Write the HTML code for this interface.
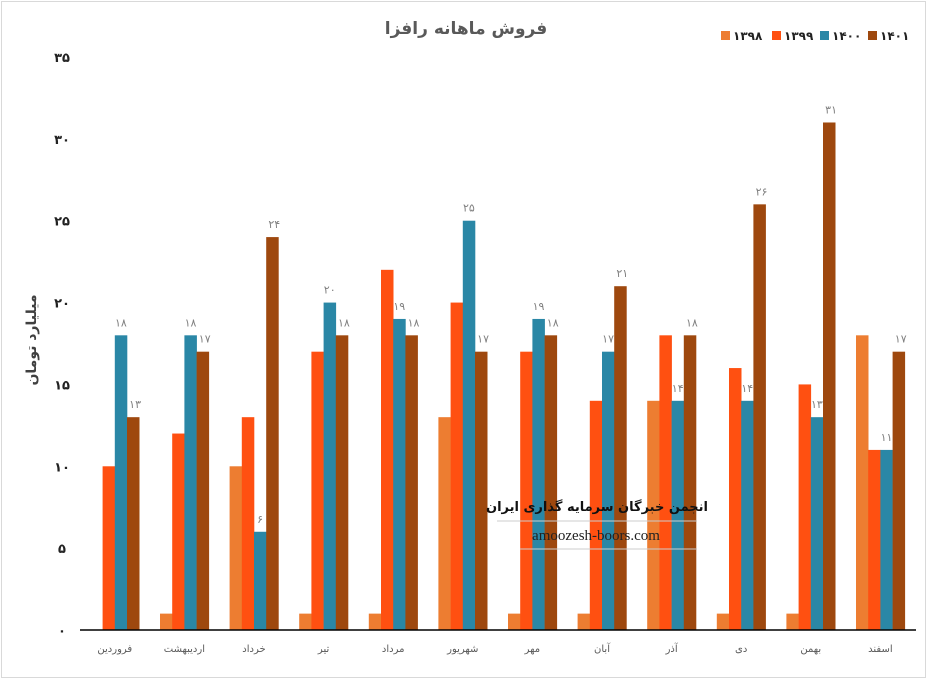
<!DOCTYPE html>
<html><head><meta charset="utf-8"><style>
body{margin:0;background:#fff;width:939px;height:680px;overflow:hidden;font-family:"Liberation Sans","DejaVu Sans",sans-serif}
</style></head><body>
<svg id="chart" width="939" height="680" xmlns="http://www.w3.org/2000/svg">
<rect x="1.5" y="1.5" width="924" height="676" fill="#fff" stroke="#d9d9d9"/>
<text x="466" y="34" text-anchor="middle" font-size="17" font-weight="bold" fill="#595959" font-family="DejaVu Sans,sans-serif">فروش ماهانه رافزا</text>
<text transform="translate(36,340) rotate(-90)" text-anchor="middle" font-size="14" font-weight="bold" fill="#404040" font-family="DejaVu Sans,sans-serif">میلیارد تومان</text>
<g id="grid"></g><g id="bars"></g><g id="labels"></g><g id="legend"></g>
<line x1="80" y1="630" x2="916" y2="630" stroke="#000" stroke-width="1.5"/>
<g>
<text x="597" y="511" text-anchor="middle" font-size="13" font-weight="bold" fill="#111" font-family="DejaVu Sans,sans-serif">انجمن خبرگان سرمایه گذاری ایران</text>
<line x1="497" y1="521" x2="697" y2="521" stroke="#ccc"/>
<text x="596" y="540" text-anchor="middle" font-size="15" fill="#222" font-family="Liberation Serif,serif">amoozesh-boors.com</text>
<line x1="520" y1="549" x2="697" y2="549" stroke="#ccc"/>
</g>
</svg>
<script>
const categories=["فروردین","اردیبهشت","خرداد","تیر","مرداد","شهریور","مهر","آبان","آذر","دی","بهمن","اسفند"];
const seriesNames=["۱۳۹۸","۱۳۹۹","۱۴۰۰","۱۴۰۱"];
const s1398=[0,1,10,1,1,13,1,1,14,1,1,18];
const s1399=[10,12,13,17,22,20,17,14,18,16,15,11];
const s1400=[18,18,6,20,19,25,19,17,14,14,13,11];
const s1401=[13,17,24,18,18,17,18,21,18,26,31,17];
const yTicks=[0,5,10,15,20,25,30,35];
const colors=["#ED7D31","#FF5011","#2A87A6","#9E480E"];
const NS="http://www.w3.org/2000/svg";
const x0=80,cw=69.6,y0=630,yMax=35,yTop=57,bw=12.2;
const fa=n=>String(n).replace(/\d/g,d=>"۰۱۲۳۴۵۶۷۸۹"[d]);
const y=v=>y0-(v/yMax)*(y0-yTop);
const xb=(i,s)=>x0+i*cw+(cw-4*bw)/2+s*bw;
function mk(tag,attrs,parent,text){const e=document.createElementNS(NS,tag);for(const k in attrs)e.setAttribute(k,attrs[k]);if(text!==undefined)e.textContent=text;document.getElementById(parent).appendChild(e);return e;}
yTicks.forEach(t=>{const e=mk("text",{x:62,y:y(t)+5,"text-anchor":"middle","font-size":13,"font-weight":"bold",fill:"#222","font-family":"DejaVu Sans,sans-serif"},"grid",fa(t));

});
categories.forEach((c,i)=>{const e=mk("text",{x:x0+i*cw+cw/2,y:652,"text-anchor":"middle","font-size":10,fill:"#595959","font-family":"DejaVu Sans,sans-serif"},"grid",c);

});
const all=[s1398,s1399,s1400,s1401];
all.forEach((ser,s)=>ser.forEach((v,i)=>{if(v<=0)return;const r=mk("rect",{x:xb(i,s),y:y(v),width:bw+0.3,height:y0-y(v),fill:colors[s]},"bars");


if(s>=2){const t=mk("text",{x:xb(i,s)+bw/2+(s==3?2:0),y:y(v)-9,"text-anchor":"middle","font-size":11,fill:"#808080","font-family":"DejaVu Sans,sans-serif"},"labels",fa(v));

}}));
const lx=[721,772,820,868];
seriesNames.forEach((n,s)=>{const g=mk("g",{},"legend");


const r=document.createElementNS(NS,"rect");r.setAttribute("x",lx[s]);r.setAttribute("y",31);r.setAttribute("width",9);r.setAttribute("height",9);r.setAttribute("fill",colors[s]);g.appendChild(r);
const t=document.createElementNS(NS,"text");t.setAttribute("x",lx[s]+12);t.setAttribute("y",40);t.setAttribute("font-size",12);t.setAttribute("font-weight","bold");t.setAttribute("fill","#222");t.setAttribute("font-family","DejaVu Sans,sans-serif");t.textContent=n;g.appendChild(t);});
</script>
</body></html>
